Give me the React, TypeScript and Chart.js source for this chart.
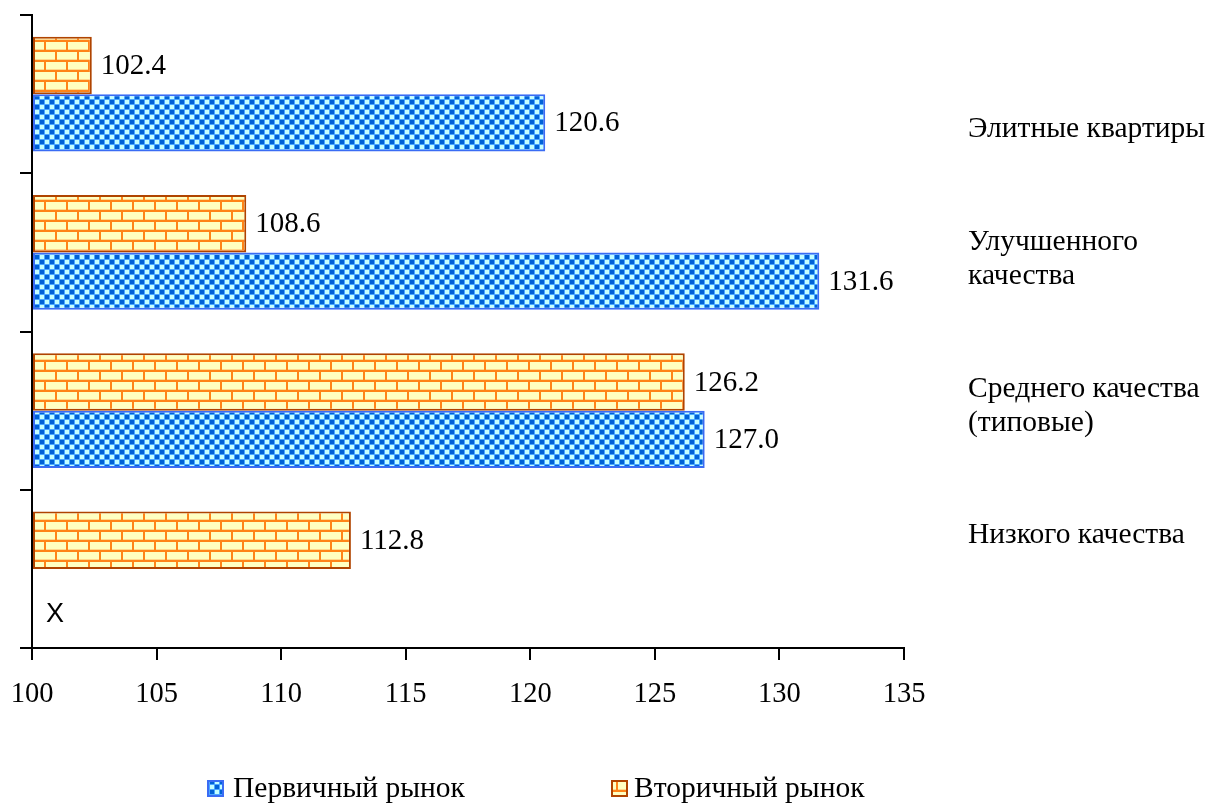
import React, { useEffect, useRef } from "react";
import { Chart, registerables } from "chart.js";

Chart.register(...registerables);

// ---- data ----
const categoryLines: string[][] = [
  ["Элитные квартиры"],
  ["Улучшенного", "качества"],
  ["Среднего качества", "(типовые)"],
  ["Низкого качества"],
];
const categories = categoryLines.map((l) => l.join(" "));
const primaryValues: (number | null)[] = [120.6, 131.6, 127.0, null];
const secondaryValues: (number | null)[] = [102.4, 108.6, 126.2, 112.8];
const seriesNames = ["Первичный рынок", "Вторичный рынок"];
const missingMark = "X";
const xMin = 100;
const xMax = 135;
const xStep = 5;

// ---- styling / layout ----
const SERIF = '"Liberation Serif", "Times New Roman", serif';
const SANS = '"Liberation Sans", Arial, sans-serif';
const TICK_FONT_SIZE = 28.5;
const VALUE_FONT_SIZE = 29;
const CAT_FONT_SIZE = 29.5;
const CAT_LINE_H = 34;
const CAT_LABEL_SHIFT = [35, 7, -4, -34]; // vertical shift of right-hand labels vs band centre
const W = 1208;
const H = 803;

function makeBrick(): CanvasPattern | string {
  const c = document.createElement("canvas");
  c.width = 22;
  c.height = 20;
  const g = c.getContext("2d")!;
  g.fillStyle = "#ff8418";
  g.fillRect(0, 0, 22, 20);
  g.fillStyle = "#ffd890";
  // soft edges around faces
  g.fillRect(2, 2, 20, 8);
  g.fillRect(0, 12, 11, 8);
  g.fillRect(13, 12, 9, 8);
  g.fillStyle = "#ffffc2";
  // row 1 face
  g.fillRect(2, 2, 20, 7);
  // row 2 faces (offset by half a brick)
  g.fillRect(0, 12, 11, 7);
  g.fillRect(13, 12, 9, 7);
  return g.createPattern(c, "repeat") || "#ffcc66";
}

function makeChecker(): CanvasPattern | string {
  const c = document.createElement("canvas");
  c.width = 10;
  c.height = 10;
  const g = c.getContext("2d")!;
  g.fillStyle = "#4aa6ff";
  g.fillRect(0, 0, 10, 10);
  g.fillStyle = "#0062d6";
  g.fillRect(0, 0, 4, 4);
  g.fillRect(5, 5, 4, 4);
  g.fillStyle = "#c4ffff";
  g.fillRect(5, 0, 4, 4);
  g.fillRect(0, 5, 4, 4);
  return g.createPattern(c, "repeat") || "#3399ff";
}

export default function App() {
  const ref = useRef<HTMLCanvasElement | null>(null);

  useEffect(() => {
    const canvas = ref.current;
    if (!canvas) return;
    const brick = makeBrick();
    const checker = makeChecker();
    const BLUE_BORDER = "#3a6cf4";
    const ORANGE_BORDER = "#b04400";

    const overlay = {
      id: "overlay",
      afterDatasetsDraw(chart: any) {
        const ctx = chart.ctx as CanvasRenderingContext2D;
        const area = chart.chartArea;
        ctx.save();
        // value labels
        chart.data.datasets.forEach((ds: any, di: number) => {
          const meta = chart.getDatasetMeta(di);
          meta.data.forEach((bar: any, i: number) => {
            const v = ds.data[i];
            if (v === null || v === undefined) {
              ctx.font = `27px ${SANS}`;
              ctx.fillStyle = "#000";
              ctx.textAlign = "center";
              ctx.textBaseline = "middle";
              ctx.fillText(missingMark, area.left + 23, bar.y + 17);
            } else {
              ctx.font = `${VALUE_FONT_SIZE}px ${SERIF}`;
              ctx.fillStyle = "#000";
              ctx.textAlign = "left";
              ctx.textBaseline = "middle";
              ctx.fillText(Number(v).toFixed(1), bar.x + 9, bar.y + 1);
            }
          });
        });
        // right-hand category labels
        const yScale = chart.scales.y;
        ctx.font = `${CAT_FONT_SIZE}px ${SERIF}`;
        ctx.textAlign = "left";
        ctx.textBaseline = "middle";
        ctx.fillStyle = "#000";
        categoryLines.forEach((lines, i) => {
          const cy = yScale.getPixelForValue(i) + CAT_LABEL_SHIFT[i];
          const top = cy - ((lines.length - 1) * CAT_LINE_H) / 2;
          lines.forEach((t, j) => ctx.fillText(t, area.right + 64, top + j * CAT_LINE_H));
        });
        // legend
        const legendY = H - 14;
        const items = [
          { text: seriesNames[0], fill: checker, border: BLUE_BORDER, x: 207, tx: 233 },
          { text: seriesNames[1], fill: brick, border: ORANGE_BORDER, x: 611, tx: 634 },
        ];
        ctx.font = `${CAT_FONT_SIZE}px ${SERIF}`;
        items.forEach((it) => {
          ctx.fillStyle = it.fill as any;
          ctx.fillRect(it.x, legendY - 9, 17, 17);
          ctx.strokeStyle = it.border;
          ctx.lineWidth = 2;
          ctx.strokeRect(it.x + 1, legendY - 8, 15, 15);
          ctx.fillStyle = "#000";
          ctx.textAlign = "left";
          ctx.textBaseline = "middle";
          ctx.fillText(it.text, it.tx, legendY);
        });
        ctx.restore();
      },
    };

    const chart = new Chart(canvas, {
      type: "bar",
      data: {
        labels: categories,
        datasets: [
          {
            label: seriesNames[1],
            data: secondaryValues,
            backgroundColor: brick as any,
            borderColor: ORANGE_BORDER,
            borderWidth: 2,
            borderSkipped: false,
            base: xMin,
          },
          {
            label: seriesNames[0],
            data: primaryValues,
            backgroundColor: checker as any,
            borderColor: BLUE_BORDER,
            borderWidth: 2,
            borderSkipped: false,
            base: xMin,
          },
        ],
      },
      options: {
        indexAxis: "y",
        responsive: false,
        animation: false,
        maintainAspectRatio: false,
        datasets: { bar: { barPercentage: 1, categoryPercentage: 0.726 } },
        layout: { padding: { left: 20, top: 15, right: 304, bottom: 95 } },
        plugins: { legend: { display: false }, tooltip: { enabled: false } },
        scales: {
          y: {
            type: "category",
            position: "left",
            offset: true,
            grid: {
              offset: true,
              drawOnChartArea: false,
              tickLength: 12,
              color: "#000",
              lineWidth: 2,
            },
            border: { color: "#000", width: 2 },
            ticks: { display: false },
            afterFit: (s: any) => {
              s.width = 12;
              s.paddingTop = 0;
              s.paddingBottom = 0;
            },
          },
          x: {
            type: "linear",
            position: "bottom",
            min: xMin,
            max: xMax,
            ticks: {
              stepSize: xStep,
              color: "#000",
              font: { family: SERIF, size: TICK_FONT_SIZE },
              padding: 17,
            },
            grid: {
              drawOnChartArea: false,
              tickLength: 12,
              color: "#000",
              lineWidth: 2,
            },
            border: { color: "#000", width: 2 },
            afterFit: (s: any) => {
              s.height = 60;
              s.paddingLeft = 0;
              s.paddingRight = 0;
            },
          },
        },
      } as any,
      plugins: [overlay],
    });
    return () => chart.destroy();
  }, []);

  return (
    <div style={{ position: "absolute", left: 0, top: 0, width: W, height: H, background: "#fff" }}>
      <canvas ref={ref} width={W} height={H} style={{ display: "block", width: W, height: H }} />
    </div>
  );
}
